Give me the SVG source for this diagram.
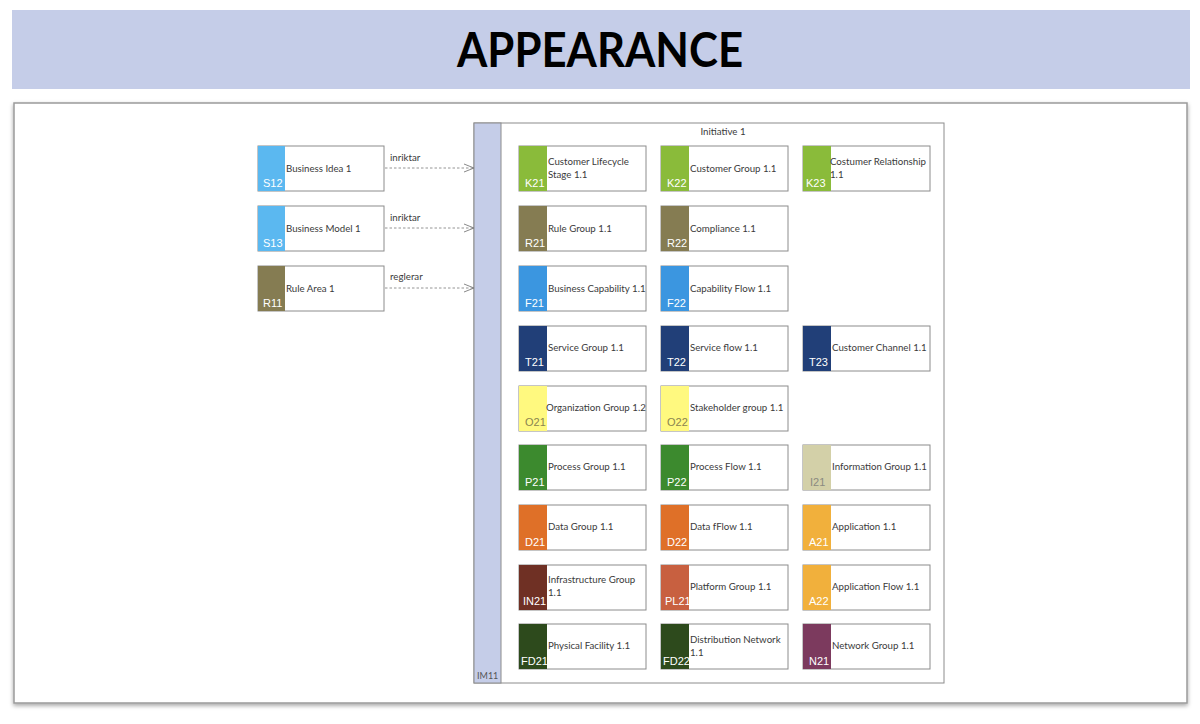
<svg xmlns="http://www.w3.org/2000/svg" width="1200" height="724" viewBox="0 0 1200 724">
<defs>
<style>
.box{fill:#fff;stroke:#8c8c8c;stroke-width:1}
.lbl{font-family:Lato,"Open Sans",sans-serif;font-size:9.7px;fill:#3a3a3a}
.code{font-family:"Liberation Sans",Arial,sans-serif;font-size:11px;fill:#fff}
.conn{fill:none;stroke:#7a7a7a;stroke-width:0.8;stroke-dasharray:2.5,2}
.clbl{font-family:Lato,"Open Sans",sans-serif;font-size:9.7px;fill:#3a3a3a}
</style>
<marker id="open" viewBox="0 0 10 10" refX="10" refY="5" markerWidth="10" markerHeight="10" markerUnits="userSpaceOnUse" orient="auto">
<path d="M0,1 L10,5 L0,9" fill="none" stroke="#7a7a7a" stroke-width="0.9"/>
</marker>
<filter id="sh" x="-5%" y="-5%" width="110%" height="110%">
<feDropShadow dx="0" dy="2" stdDeviation="2" flood-color="#000" flood-opacity="0.35"/>
</filter>
</defs>
<rect x="0" y="0" width="1200" height="724" fill="#fff"/>
<rect x="12" y="10" width="1178" height="79" fill="#c5cde8"/>
<text x="600" y="67" text-anchor="middle" font-family="Lato,'Open Sans',sans-serif" font-weight="700" font-size="47" textLength="286" lengthAdjust="spacingAndGlyphs" fill="#000">APPEARANCE</text>
<rect x="14" y="103" width="1173" height="600" fill="#fff" stroke="#9a9a9a" stroke-width="1.5" filter="url(#sh)"/>

<g id="IM11">
<rect x="474" y="123" width="470" height="560" fill="#fff" stroke="#8c8c8c"/>
<rect x="474" y="123" width="27" height="560" fill="#c5cde8" stroke="#8c8c8c"/>
<text x="723" y="135" text-anchor="middle" class="lbl">Initiative 1</text>
<text x="477" y="679" class="lbl" style="font-size:9px;fill:#555">IM11</text>
</g>

<g id="connectors">
<path class="conn" d="M385,168 L474,168" marker-end="url(#open)"/>
<text x="390" y="161" class="clbl">inriktar</text>
<path class="conn" d="M385,228 L474,228" marker-end="url(#open)"/>
<text x="390" y="221" class="clbl">inriktar</text>
<path class="conn" d="M385,288 L474,288" marker-end="url(#open)"/>
<text x="390" y="280" class="clbl">reglerar</text>
</g>

<g id="S12"><rect class="box" x="258" y="146" width="126" height="45"/><rect x="258" y="146" width="27" height="45" fill="#5bb8f0"/><text class="code" x="263" y="187">S12</text><text class="lbl" x="286" y="172">Business Idea 1</text></g>
<g id="S13"><rect class="box" x="258" y="206" width="126" height="45"/><rect x="258" y="206" width="27" height="45" fill="#5bb8f0"/><text class="code" x="263" y="247">S13</text><text class="lbl" x="286" y="232">Business Model 1</text></g>
<g id="R11"><rect class="box" x="258" y="266" width="126" height="45"/><rect x="258" y="266" width="27" height="45" fill="#857c52"/><text class="code" x="263" y="307">R11</text><text class="lbl" x="286" y="292">Rule Area 1</text></g>

<!-- Row 1 -->
<g id="K21"><rect class="box" x="519" y="146" width="127" height="45"/><rect x="519" y="146" width="28" height="45" fill="#8abb3a"/><text class="code" x="525" y="187">K21</text><text class="lbl" x="548" y="165">Customer Lifecycle</text><text class="lbl" x="548" y="178">Stage 1.1</text></g>
<g id="K22"><rect class="box" x="661" y="146" width="127" height="45"/><rect x="661" y="146" width="28" height="45" fill="#8abb3a"/><text class="code" x="667" y="187">K22</text><text class="lbl" x="690" y="172">Customer Group 1.1</text></g>
<g id="K23"><rect class="box" x="803" y="146" width="127" height="45"/><rect x="803" y="146" width="28" height="45" fill="#8abb3a"/><text class="code" x="806" y="187">K23</text><text class="lbl" x="830" y="165">Costumer Relationship</text><text class="lbl" x="830" y="178">1.1</text></g>

<!-- Row 2 -->
<g id="R21"><rect class="box" x="519" y="206" width="127" height="45"/><rect x="519" y="206" width="28" height="45" fill="#857c52"/><text class="code" x="525" y="247">R21</text><text class="lbl" x="548" y="232">Rule Group 1.1</text></g>
<g id="R22"><rect class="box" x="661" y="206" width="127" height="45"/><rect x="661" y="206" width="28" height="45" fill="#857c52"/><text class="code" x="667" y="247">R22</text><text class="lbl" x="690" y="232">Compliance 1.1</text></g>

<!-- Row 3 -->
<g id="F21"><rect class="box" x="519" y="266" width="127" height="45"/><rect x="519" y="266" width="28" height="45" fill="#3b96e0"/><text class="code" x="525" y="307">F21</text><text class="lbl" x="548" y="292">Business Capability 1.1</text></g>
<g id="F22"><rect class="box" x="661" y="266" width="127" height="45"/><rect x="661" y="266" width="28" height="45" fill="#3b96e0"/><text class="code" x="667" y="307">F22</text><text class="lbl" x="690" y="292">Capability Flow 1.1</text></g>

<!-- Row 4 -->
<g id="T21"><rect class="box" x="519" y="326" width="127" height="45"/><rect x="519" y="326" width="28" height="45" fill="#213f78"/><text class="code" x="525" y="366">T21</text><text class="lbl" x="548" y="351">Service Group 1.1</text></g>
<g id="T22"><rect class="box" x="661" y="326" width="127" height="45"/><rect x="661" y="326" width="28" height="45" fill="#213f78"/><text class="code" x="667" y="366">T22</text><text class="lbl" x="690" y="351">Service flow 1.1</text></g>
<g id="T23"><rect class="box" x="803" y="326" width="127" height="45"/><rect x="803" y="326" width="28" height="45" fill="#213f78"/><text class="code" x="809" y="366">T23</text><text class="lbl" x="832" y="351">Customer Channel 1.1</text></g>

<!-- Row 5 -->
<g id="O21"><rect class="box" x="519" y="386" width="127" height="45"/><rect x="519" y="386" width="28" height="45" fill="#fff97f"/><text class="code" x="525" y="426" style="fill:#8a8450">O21</text><text class="lbl" x="546" y="411">Organization Group 1.2</text></g>
<g id="O22"><rect class="box" x="661" y="386" width="127" height="45"/><rect x="661" y="386" width="28" height="45" fill="#fff97f"/><text class="code" x="667" y="426" style="fill:#8a8450">O22</text><text class="lbl" x="690" y="411">Stakeholder group 1.1</text></g>

<!-- Row 6 -->
<g id="P21"><rect class="box" x="519" y="445" width="127" height="45"/><rect x="519" y="445" width="28" height="45" fill="#3c8a2e"/><text class="code" x="525" y="486">P21</text><text class="lbl" x="548" y="470">Process Group 1.1</text></g>
<g id="P22"><rect class="box" x="661" y="445" width="127" height="45"/><rect x="661" y="445" width="28" height="45" fill="#3c8a2e"/><text class="code" x="667" y="486">P22</text><text class="lbl" x="690" y="470">Process Flow 1.1</text></g>
<g id="I21"><rect class="box" x="803" y="445" width="127" height="45"/><rect x="803" y="445" width="28" height="45" fill="#d3d0a8"/><text class="code" x="810" y="486" style="fill:#8a8a80">I21</text><text class="lbl" x="832" y="470">Information Group 1.1</text></g>

<!-- Row 7 -->
<g id="D21"><rect class="box" x="519" y="505" width="127" height="45"/><rect x="519" y="505" width="28" height="45" fill="#df7028"/><text class="code" x="525" y="546">D21</text><text class="lbl" x="548" y="530">Data Group 1.1</text></g>
<g id="D22"><rect class="box" x="661" y="505" width="127" height="45"/><rect x="661" y="505" width="28" height="45" fill="#df7028"/><text class="code" x="667" y="546">D22</text><text class="lbl" x="690" y="530">Data fFlow 1.1</text></g>
<g id="A21"><rect class="box" x="803" y="505" width="127" height="45"/><rect x="803" y="505" width="28" height="45" fill="#f1b03c"/><text class="code" x="809" y="546">A21</text><text class="lbl" x="832" y="530">Application 1.1</text></g>

<!-- Row 8 -->
<g id="IN21"><rect class="box" x="519" y="565" width="127" height="45"/><rect x="519" y="565" width="28" height="45" fill="#6f3024"/><text class="code" x="523" y="605">IN21</text><text class="lbl" x="548" y="583">Infrastructure Group</text><text class="lbl" x="548" y="596">1.1</text></g>
<g id="PL21"><rect class="box" x="661" y="565" width="127" height="45"/><rect x="661" y="565" width="28" height="45" fill="#c86040"/><text class="code" x="665" y="605">PL21</text><text class="lbl" x="690" y="590">Platform Group 1.1</text></g>
<g id="A22"><rect class="box" x="803" y="565" width="127" height="45"/><rect x="803" y="565" width="28" height="45" fill="#f1b03c"/><text class="code" x="809" y="605">A22</text><text class="lbl" x="832" y="590">Application Flow 1.1</text></g>

<!-- Row 9 -->
<g id="FD21"><rect class="box" x="519" y="624" width="127" height="45"/><rect x="519" y="624" width="28" height="45" fill="#2d4a1c"/><text class="code" x="521" y="665">FD21</text><text class="lbl" x="548" y="649">Physical Facility 1.1</text></g>
<g id="FD22"><rect class="box" x="661" y="624" width="127" height="45"/><rect x="661" y="624" width="28" height="45" fill="#2d4a1c"/><text class="code" x="663" y="665">FD22</text><text class="lbl" x="690" y="643">Distribution Network</text><text class="lbl" x="690" y="656">1.1</text></g>
<g id="N21"><rect class="box" x="803" y="624" width="127" height="45"/><rect x="803" y="624" width="28" height="45" fill="#7c3a5e"/><text class="code" x="809" y="665">N21</text><text class="lbl" x="832" y="649">Network Group 1.1</text></g>
</svg>
